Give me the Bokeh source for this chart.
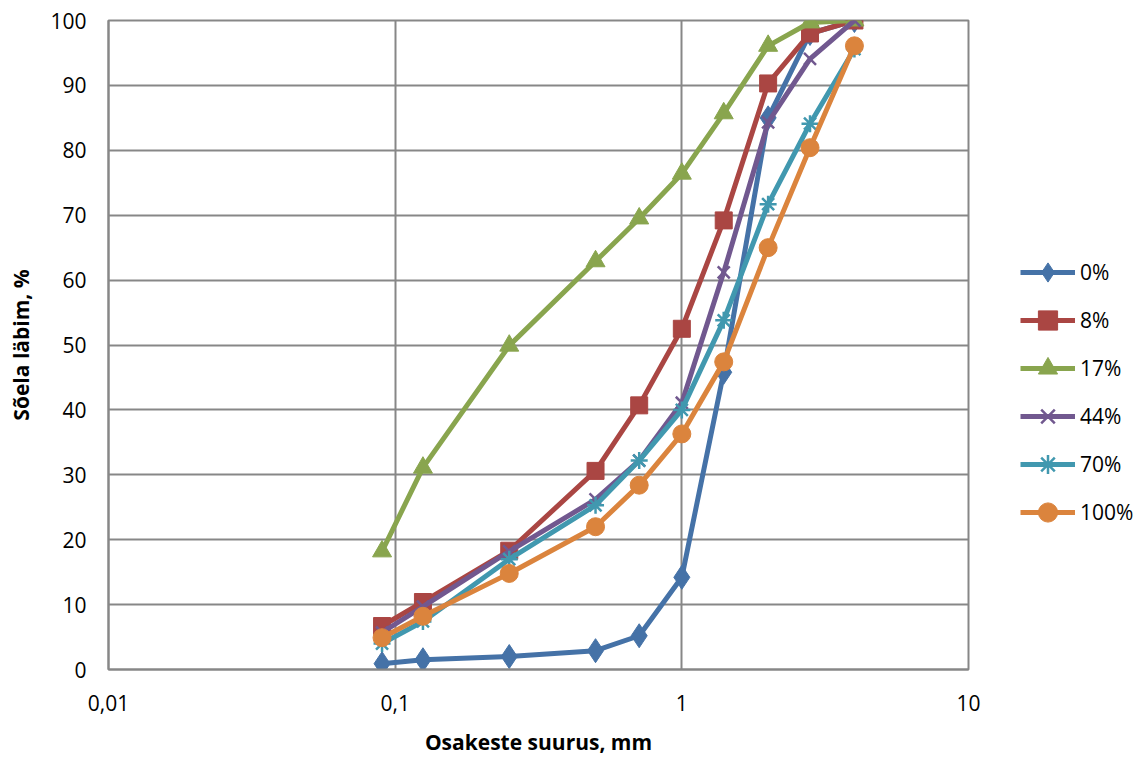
from bokeh.plotting import figure
from bokeh.layouts import row
from bokeh.models import FixedTicker, Legend, LegendItem
from bokeh.embed import file_html
from bokeh.resources import INLINE

# ---- data ----
sizes = [0.09, 0.125, 0.25, 0.5, 0.71, 1, 1.4, 2, 2.8, 4]
series_names = ["0%", "8%", "17%", "44%", "70%", "100%"]
s0 = [0.9, 1.5, 2.0, 2.9, 5.2, 14.2, 45.8, 85.0, 98.0, 100]
s8 = [6.7, 10.4, 18.3, 30.6, 40.7, 52.5, 69.2, 90.3, 98.0, 100]
s17 = [18.2, 31.1, 49.9, 62.9, 69.5, 76.4, 85.7, 96.1, 99.7, 100]
s44 = [5.7, 9.7, 18.2, 26.2, 32.2, 41.1, 61.2, 84.3, 94.1, 100]
s70 = [4.0, 7.4, 17.0, 25.3, 32.2, 40.0, 53.8, 71.7, 84.1, 95.6]
s100 = [4.9, 8.2, 14.8, 22.0, 28.4, 36.3, 47.4, 65.0, 80.4, 96.1]
x_ticks = [0.01, 0.1, 1, 10]
x_tick_labels = ["0,01", "0,1", "1", "10"]
y_ticks = [0, 10, 20, 30, 40, 50, 60, 70, 80, 90, 100]

values = [s0, s8, s17, s44, s70, s100]
colors = ["#4572A7", "#AA4643", "#89A54E", "#71588F", "#4198AF", "#DB843D"]
markers = ["diamond", "square", "triangle", "x", "asterisk", "circle"]
msizes = [24, 17, 19, 17, 17, 18]

FONT = "Open Sans"
GRID = "#878787"

p = figure(width=992, height=758, x_axis_type="log",
           x_range=(0.01, 10), y_range=(0, 100),
           output_backend="svg", toolbar_location=None,
           min_border_left=108, min_border_right=24,
           min_border_top=20, min_border_bottom=89)
p.background_fill_color = "white"
p.border_fill_color = "white"
p.outline_line_color = GRID
p.outline_line_width = 2

p.xaxis.ticker = FixedTicker(ticks=x_ticks)
p.xaxis.major_label_overrides = {t: l for t, l in zip(x_ticks, x_tick_labels)}
p.yaxis.ticker = FixedTicker(ticks=y_ticks)

for ax in (p.xaxis[0], p.yaxis[0]):
    ax.axis_line_color = GRID
    ax.axis_line_width = 2
    ax.major_tick_line_color = None
    ax.minor_tick_line_color = None
    ax.major_tick_out = 0
    ax.major_tick_in = 0
    ax.major_label_text_font = FONT
    ax.major_label_text_font_size = "21px"
    ax.major_label_text_color = "#000000"
    ax.axis_label_text_font = FONT
    ax.axis_label_text_font_style = "bold"
    ax.axis_label_text_font_size = "21px"
    ax.axis_label_text_color = "#000000"

p.xaxis.axis_label = "Osakeste suurus, mm"
p.yaxis.axis_label = "Sõela läbim, %"
p.xaxis.major_label_standoff = 25
p.xaxis.axis_label_standoff = 14
p.yaxis.major_label_standoff = 22
p.yaxis.axis_label_standoff = 12

for g in (p.xgrid[0], p.ygrid[0]):
    g.grid_line_color = GRID
    g.grid_line_width = 2
p.xgrid.minor_grid_line_color = None

# legend figure (same series drawn off-view, only the legend is visible)
pl = figure(width=154, height=758, x_range=(100, 200), y_range=(200, 300),
            output_backend="svg", toolbar_location=None,
            x_axis_location=None, y_axis_location=None,
            min_border_left=0, min_border_right=0,
            min_border_top=0, min_border_bottom=0)
pl.outline_line_color = None
pl.grid.visible = False
pl.background_fill_color = "white"
pl.border_fill_color = "white"

items = []
for name, vals, c, m, ms in zip(series_names, values, colors, markers, msizes):
    for fig in (p, pl):
        r1 = fig.line(sizes, vals, line_color=c, line_width=5)
        if m in ("x", "asterisk"):
            r2 = fig.scatter(sizes, vals, marker=m, size=ms, line_color=c, line_width=2.5)
        else:
            r2 = fig.scatter(sizes, vals, marker=m, size=ms, fill_color=c,
                             line_color=c, line_width=1)
    items.append(LegendItem(label=name, renderers=[r1, r2]))

legend = Legend(items=items, location=(28, 133),
                glyph_width=55, glyph_height=48, spacing=0,
                label_standoff=5, padding=0, margin=0,
                border_line_color=None, background_fill_alpha=0,
                label_text_font=FONT, label_text_font_size="21px",
                label_text_color="#000000")
pl.add_layout(legend)

layout = row(p, pl)
open("out.html", "w").write(file_html(layout, INLINE))
